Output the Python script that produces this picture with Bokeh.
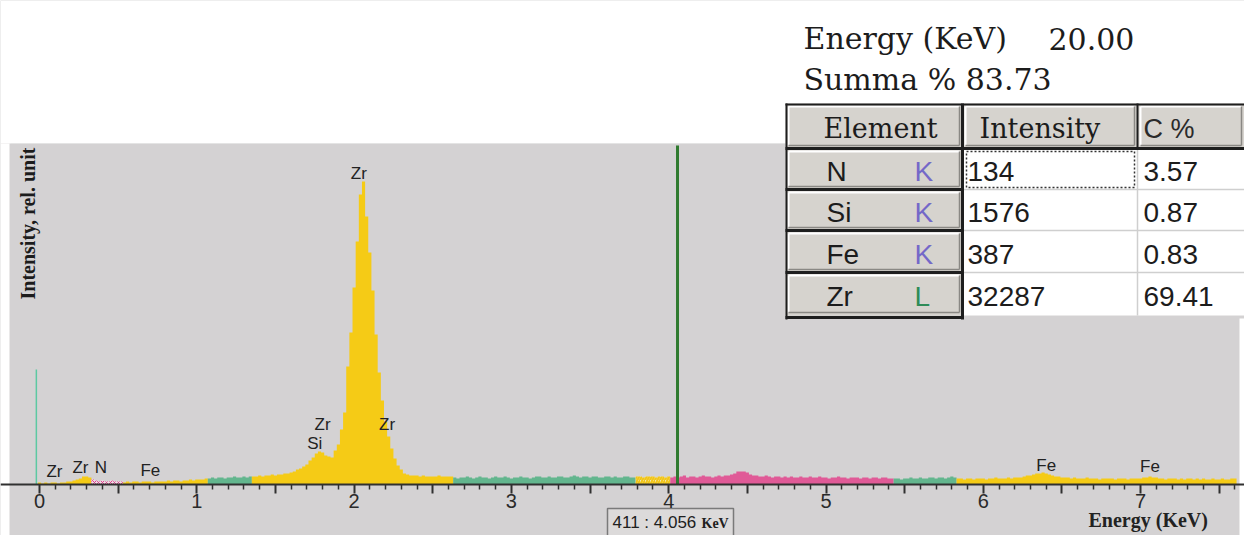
import math
from bokeh.plotting import figure
from bokeh.models import Range1d, FixedTicker, CustomJSTickFormatter
from bokeh.core.properties import value
from bokeh.embed import file_html
from bokeh.resources import INLINE

# ---------------- data ----------------
bin_start_kev = 0.0
bin_width_kev = 0.02
counts = (
    [2, 1, 2, 1, 2, 2, 1, 2, 2, 3, 3]                      # 0.00-0.20
    + [4, 5, 6, 8, 8, 7, 5]                                 # 0.22-0.34
    + [4, 3, 4, 3, 3, 4, 3, 3, 3]                           # 0.36-0.52
    + [2, 3, 2, 3, 3, 2, 3, 3, 3, 2, 3, 3, 3, 3, 4, 3, 4, 4, 3, 4, 4, 5, 4, 5, 5, 5, 6]  # 0.54-1.06
    + [6, 7, 6, 7, 7, 6, 7, 7, 8, 7, 7, 8, 7, 8]            # 1.08-1.34
    + [8, 8, 9, 8, 9, 9, 10, 9, 10, 10, 11, 11]             # 1.36-1.58
    + [12, 13, 15, 16, 18, 20]                              # 1.60-1.70
    + [24, 27, 31, 33, 32, 29, 28, 27]                      # 1.72-1.86
    + [34, 40, 55, 72, 118, 152, 197, 243, 290, 303, 268, 232, 194,
       150, 112, 84, 63, 48, 36, 26, 19, 15, 11, 10, 9]     # 1.88-2.36
    + [9, 9, 8, 9, 8, 8, 8, 8, 9, 8, 8, 8, 8]               # 2.38-2.62
    + [7, 6, 7, 7, 8, 7, 6, 7, 8, 7, 7, 6, 7, 8, 7, 7, 8, 7, 6, 7,
       7, 8, 7, 7, 6, 7, 8, 8, 7, 7, 8, 7, 7, 8, 8, 7, 7, 8, 9, 8,
       7, 8, 8, 7, 8, 8, 7, 7, 8, 8, 7, 8, 7, 7, 8, 8, 7, 7]  # 2.64-3.78
    + [8, 8, 7, 8, 8, 8, 7, 8, 8, 7, 8]                     # 3.80-4.00
    + [7, 8, 7, 8, 9, 7, 8, 8, 7, 8, 9, 8, 8, 7, 8, 9, 8, 9, 9]  # 4.02-4.38
    + [10, 11, 13, 13, 13, 12, 10, 9, 9]                    # 4.40-4.56
    + [8, 8, 9, 8, 7, 8, 8, 7, 8, 7, 8, 7, 7, 8, 7, 7, 8, 7, 7, 8,
       7, 7, 6, 7, 7, 8, 7, 7, 6, 7, 7, 7, 6, 7, 7, 6, 7, 7, 6, 7,
       7, 6, 6]                                             # 4.58-5.42
    + [6, 6, 5, 6, 6, 7, 6, 6, 7, 6, 6, 7, 7, 6, 7, 7, 6, 7, 8, 7]  # 5.44-5.82
    + [6, 6, 5, 6, 6, 5, 6, 6, 6, 5, 6, 6, 7, 6, 6, 6, 7, 6, 7, 7, 7, 8]  # 5.84-6.26
    + [9, 9, 10, 11, 11, 12, 11, 10, 9, 8]                  # 6.28-6.46
    + [8, 7, 7, 7, 6, 7, 6, 6, 6, 7, 6, 6, 6, 5, 6, 6, 6, 6, 5, 6,
       6, 6, 5, 6, 6, 6, 6]                                 # 6.48-7.00
    + [7, 7, 8, 7, 7]                                       # 7.02-7.10
    + [6, 6, 5, 6, 6, 6, 5, 6, 5, 6, 6, 5, 6, 5, 6, 5, 5, 6, 5, 5,
       6, 5, 5, 6, 6]                                       # 7.12-7.60
)

# element windows (ROI)
roi_start = [-0.01, 0.33, 0.53, 1.07, 1.35, 2.63, 3.79, 4.01, 5.43, 5.83]
roi_end = [0.33, 0.53, 1.07, 1.35, 2.63, 3.79, 4.01, 5.43, 5.83, 7.62]
roi_kind = ["yellow", "n_hatch", "yellow", "green", "yellow", "green",
            "yellow_hatch", "pink", "green", "yellow"]

# peak marker labels (energy, height of label centre)
label_text = ["Zr", "Zr", "N", "Fe", "Si", "Zr", "Zr", "Zr", "Fe", "Fe"]
label_energy = [0.095, 0.26, 0.39, 0.705, 1.75, 1.80, 2.21, 2.03, 6.40, 7.06]
label_height = [13, 17, 17, 14, 41, 60, 60, 311, 19, 18]

zero_peak_energy = -0.02
zero_peak_height = 115
cursor_channel = 411
cursor_energy = 4.056

major_ticks = [0, 0.5, 1, 1.5, 2, 2.5, 3, 3.5, 4, 4.5, 5, 5.5, 6, 6.5, 7, 7.5]
minor_ticks = [round(0.1 * k, 1) for k in range(1, 77) if k % 5 != 0]

beam_energy_kev = 20.00
summa_pct = 83.73
elements = ["N", "Si", "Fe", "Zr"]
lines = ["K", "K", "K", "L"]
intensity = [134, 1576, 387, 32287]
conc_pct = [3.57, 0.87, 0.83, 69.41]

# ---------------- layout helpers (picture pixels -> data) ----------------
X0_PX, KEV_PX, AXIS_PX = 39.0, 157.3, 484.0
W, H = 1244, 535


def ex(px):
    return (px - X0_PX) / KEV_PX


def ey(py):
    return AXIS_PX - py


GRAY = "#d4d2d3"
YELLOW = "#f5cb16"
GREEN = "#63b68e"
PINK = "#e05a97"
TXT = "#1c1c1c"

p = figure(width=W, height=H,
           x_range=Range1d(ex(0), ex(W)), y_range=Range1d(ey(H), ey(0)),
           y_axis_location=None, toolbar_location=None, output_backend="svg",
           min_border=0, background_fill_color=GRAY,
           border_fill_color=GRAY, outline_line_color=None)
p.grid.visible = False

ax = p.xaxis[0]
ax.fixed_location = 0
ax.ticker = FixedTicker(ticks=major_ticks, minor_ticks=minor_ticks)
ax.formatter = CustomJSTickFormatter(code="""
const k = Math.round(tick * 2);
return (k % 2 === 0) ? String(k / 2) : "";
""")
ax.axis_line_color = "#303030"
ax.axis_line_width = 2
ax.major_tick_line_color = "#303030"
ax.major_tick_line_width = 2
ax.major_tick_out = 9
ax.major_tick_in = 0
ax.minor_tick_line_color = "#303030"
ax.minor_tick_line_width = 1.5
ax.minor_tick_out = 5
ax.minor_tick_in = 0
ax.major_label_standoff = 0
ax.major_label_text_font = "Liberation Sans"
ax.major_label_text_font_size = "20px"
ax.major_label_text_color = "#2a2a2a"

# white band above the spectrum area and white page edges
p.quad(left=[ex(0), ex(0), ex(1239)], right=[ex(W), ex(9), ex(W)],
       bottom=[ey(143), ey(H), ey(H)], top=[ey(0), ey(143), ey(318)],
       fill_color="white", line_color=None)
p.segment(x0=[ex(10)], y0=[ey(143)], x1=[ex(1238)], y1=[ey(143)],
          line_color="#e4e4e4", line_width=1)

# ---------------- spectrum ----------------
energies = [round(bin_start_kev + i * bin_width_kev, 4) for i in range(len(counts))]
half = bin_width_kev / 2
styles = {
    "yellow": dict(fill_color=YELLOW),
    "green": dict(fill_color=GREEN),
    "pink": dict(fill_color=PINK),
    "yellow_hatch": dict(fill_color="#f1e6b4", hatch_pattern="/",
                         hatch_color="#f2c514", hatch_scale=5, hatch_weight=2),
    "n_hatch": dict(fill_color="#f0dbe4", hatch_pattern="x",
                    hatch_color="#e0408f", hatch_scale=4, hatch_weight=1),
}
for s, e, kind in zip(roi_start, roi_end, roi_kind):
    idx = [i for i, en in enumerate(energies) if s <= en < e]
    if not idx:
        continue
    xs = [energies[idx[0]] - half]
    ys = [0]
    for i in idx:
        xs += [energies[i] - half, energies[i] + half]
        ys += [counts[i], counts[i]]
    xs.append(energies[idx[-1]] + half)
    ys.append(0)
    p.patch(xs, ys, line_color=None, **styles[kind])

p.segment(x0=[zero_peak_energy], y0=[0], x1=[zero_peak_energy], y1=[zero_peak_height],
          line_color="#5cc9a2", line_width=1.5)
p.segment(x0=[cursor_energy], y0=[0], x1=[cursor_energy], y1=[ey(145)],
          line_color="#2f7a2f", line_width=3)

p.text(x=label_energy, y=label_height, text=label_text,
       text_font=value("Liberation Sans"), text_font_size="17px",
       text_align="center", text_baseline="middle", text_color="#222222")

p.text(x=[ex(27)], y=[ey(299)], text=["Intensity, rel. unit"], angle=math.pi / 2,
       text_font=value("Liberation Serif"), text_font_style="bold",
       text_font_size="20px", text_align="left", text_baseline="middle",
       text_color=TXT)

# ---------------- header texts ----------------
p.text(x=[ex(803), ex(1048), ex(803)], y=[ey(38), ey(38), ey(79)],
       text=["Energy (KeV)", f"{beam_energy_kev:.2f}", f"Summa % {summa_pct:.2f}"],
       text_font=value("DejaVu Serif"), text_font_size="30px",
       text_baseline="middle", text_color=TXT)

# ---------------- result table ----------------
col_px = [785, 962, 1137, 1244]
row_px = [103, 148, 189, 230, 272, 315]
CELL = "#d6d3ce"

p.quad(left=[ex(col_px[i]) for i in range(3)], right=[ex(col_px[i + 1]) for i in range(3)],
       bottom=[ey(row_px[1])] * 3, top=[ey(row_px[0])] * 3, fill_color=CELL, line_color=None)
p.quad(left=[ex(785)] * 4, right=[ex(962)] * 4,
       top=[ey(r) for r in row_px[1:5]], bottom=[ey(r) for r in row_px[2:6]],
       fill_color=CELL, line_color=None)
p.quad(left=[ex(962)], right=[ex(W)], top=[ey(row_px[1])], bottom=[ey(row_px[5])],
       fill_color="white", line_color=None)

# bevels on grey cells
cells = [(785, 962, 103, 148), (962, 1137, 103, 148), (1137, 1244, 103, 148)]
cells += [(785, 962, row_px[i], row_px[i + 1]) for i in range(1, 5)]
hx0, hy0, hx1, hy1, sx0, sy0, sx1, sy1 = [], [], [], [], [], [], [], []
for l, r, t, b in cells:
    hx0 += [ex(l + 3), ex(l + 3)]; hy0 += [ey(t + 3), ey(t + 3)]
    hx1 += [ex(r - 3), ex(l + 3)]; hy1 += [ey(t + 3), ey(b - 3)]
    sx0 += [ex(l + 3), ex(r - 3)]; sy0 += [ey(b - 3), ey(t + 3)]
    sx1 += [ex(r - 3), ex(r - 3)]; sy1 += [ey(b - 3), ey(b - 3)]
p.segment(x0=hx0, y0=hy0, x1=hx1, y1=hy1, line_color="white", line_width=2)
p.segment(x0=sx0, y0=sy0, x1=sx1, y1=sy1, line_color="#8a8884", line_width=1.5)

# light grid in white cells
p.segment(x0=[ex(962)] * 3 + [ex(1137)], y0=[ey(r) for r in row_px[2:5]] + [ey(148)],
          x1=[ex(W)] * 3 + [ex(1137)], y1=[ey(r) for r in row_px[2:5]] + [ey(315)],
          line_color="#cfcfcf", line_width=1.5)
# dark borders
dx0 = [ex(785), ex(785), ex(962), ex(786), ex(1137)] + [ex(785)] * 4
dy0 = [ey(104), ey(148), ey(103), ey(103), ey(103)] + [ey(r) for r in [189, 230, 272, 317]]
dx1 = [ex(W), ex(W), ex(962), ex(786), ex(1137)] + [ex(962)] * 4
dy1 = [ey(104), ey(148), ey(319), ey(319), ey(148)] + [ey(r) for r in [189, 230, 272, 317]]
dw = [2, 3, 3, 2, 2, 3, 3, 3, 3]
p.segment(x0=dx0, y0=dy0, x1=dx1, y1=dy1, line_color="#1e1e1e", line_width=dw)

# focus rectangle around first intensity value
p.quad(left=[ex(966)], right=[ex(1134)], top=[ey(151)], bottom=[ey(187)],
       fill_color=None, line_color="#333333", line_dash="2 2", line_width=1.5)

p.text(x=[ex(823), ex(979)], y=[ey(128)] * 2, text=["Element", "Intensity"],
       text_font=value("DejaVu Serif"), text_font_size="27px",
       text_baseline="middle", text_color=TXT)
p.text(x=[ex(1143)], y=[ey(128)], text=["C %"],
       text_font=value("Liberation Sans"), text_font_size="27px",
       text_baseline="middle", text_color="#2a2a2a")

row_mid = [171, 212, 254, 296]
p.text(x=[ex(826)] * 4, y=[ey(b) for b in row_mid], text=elements,
       text_font=value("Liberation Sans"), text_font_size="28px",
       text_baseline="middle", text_color=TXT)
p.text(x=[ex(914)] * 4, y=[ey(b) for b in row_mid], text=lines,
       text_font=value("Liberation Sans"), text_font_size="28px",
       text_baseline="middle",
       text_color=["#7468c8" if ln == "K" else "#2e8b57" for ln in lines])
p.text(x=[ex(967)] * 4, y=[ey(b) for b in row_mid], text=[str(v) for v in intensity],
       text_font=value("Liberation Sans"), text_font_size="28px",
       text_baseline="middle", text_color=TXT)
p.text(x=[ex(1143)] * 4, y=[ey(b) for b in row_mid], text=[f"{v:.2f}" for v in conc_pct],
       text_font=value("Liberation Sans"), text_font_size="28px",
       text_baseline="middle", text_color=TXT)

# ---------------- below-axis items ----------------
p.quad(left=[ex(607)], right=[ex(733)], top=[ey(508)], bottom=[ey(H + 10)],
       fill_color="#dcdada", line_color="#7a7a7a", line_width=1.5)
p.text(x=[ex(612)], y=[ey(522)], text=[f"{cursor_channel} : {cursor_energy:.3f}"],
       text_font=value("Liberation Sans"), text_font_size="17px",
       text_baseline="middle", text_color="#202020")
p.text(x=[ex(701)], y=[ey(523)], text=["KeV"],
       text_font=value("Liberation Serif"), text_font_style="bold",
       text_font_size="14px", text_baseline="middle", text_color="#202020")
p.text(x=[ex(1088)], y=[ey(519)], text=["Energy (KeV)"],
       text_font=value("Liberation Serif"), text_font_style="bold",
       text_font_size="20px", text_baseline="middle", text_color="#222222")

open("out.html", "w").write(file_html(p, INLINE))
